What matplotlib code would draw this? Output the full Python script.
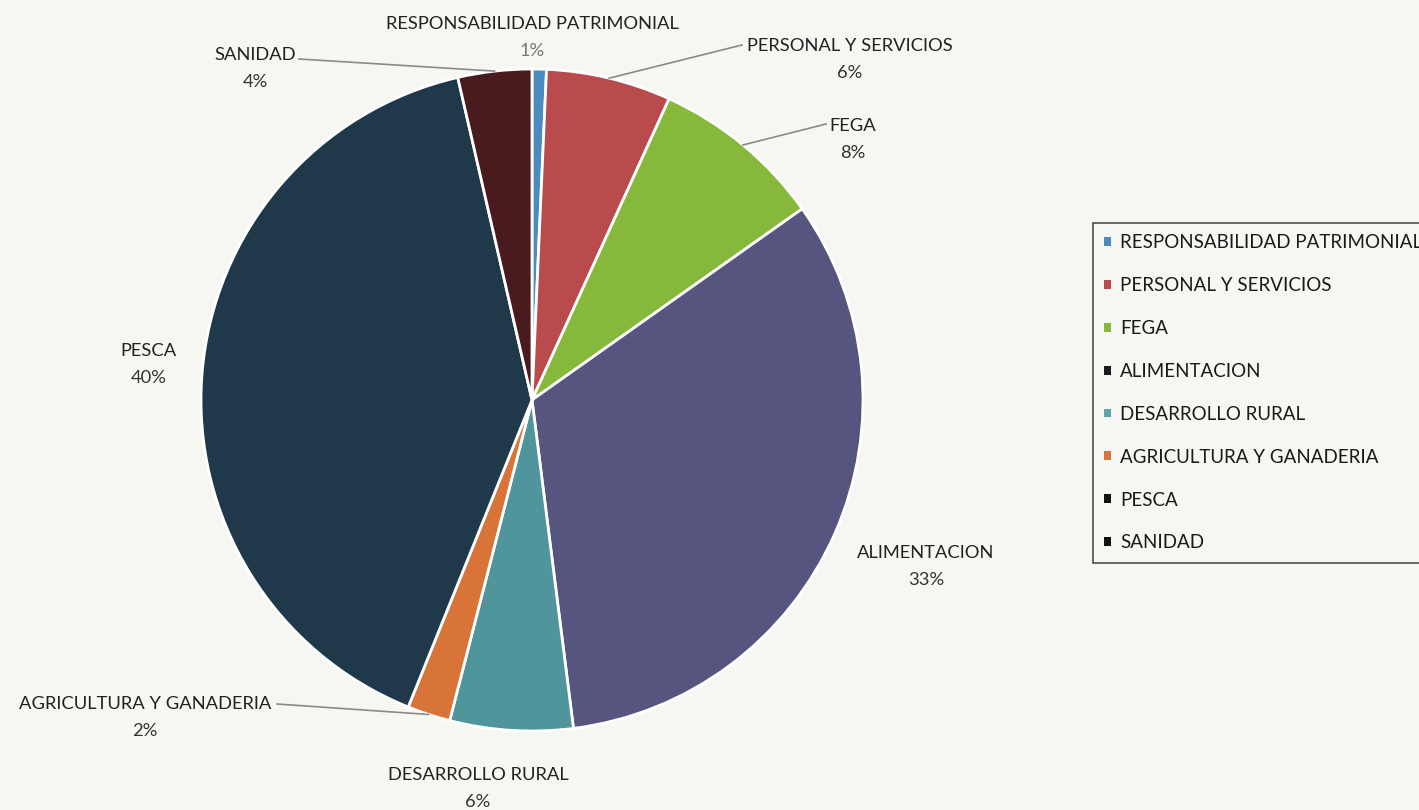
import matplotlib.pyplot as plt
import numpy as np

# ---------------------------------------------------------------
# data (percent of total)

categories = ['RESPONSABILIDAD PATRIMONIAL', 'PERSONAL Y SERVICIOS', 'FEGA',
              'ALIMENTACION', 'DESARROLLO RURAL', 'AGRICULTURA Y GANADERIA',
              'PESCA', 'SANIDAD']
values = [0.7, 6.1, 8.4, 32.8, 6.0, 2.1, 40.3, 3.6]
pct_labels = ['1%', '6%', '8%', '33%', '6%', '2%', '40%', '4%']

slice_colors = ['#4b8bbd', '#b94b4d', '#86b83c', '#55557f',
                '#4f959b', '#d97439', '#1f394b', '#4a1b1e']
legend_colors = ['#4b8bbd', '#b94b4d', '#86b83c', '#1a1a22',
                 '#5fa4ab', '#d97439', '#111111', '#111111']

# ---------------------------------------------------------------

W, H = 1419, 810
fig = plt.figure(figsize=(W / 100, H / 100), dpi=100, facecolor='#f6f6f3')
ax = fig.add_axes([0, 0, 1, 1])

cx, cy, r = 532, 410, 331
wedges, _ = ax.pie(values, colors=slice_colors, startangle=90, counterclock=False,
                   center=(cx, cy), radius=r, frame=True,
                   wedgeprops=dict(edgecolor='white', linewidth=2))
ax.set_xlim(0, W)
ax.set_ylim(0, H)
ax.set_aspect('equal')
ax.axis('off')

font = 'Lato'
fs = 13.2
# label text positions (x, y of the name line)
label_pos = [(532, 786), (850, 764), (853, 684), (926, 257),
             (478, 35), (145, 106), (149, 459), (255, 755)]
# far end of leader lines, for the labels that have one
leader_end = {1: (742, 765), 2: (826, 686), 5: (277, 106), 7: (299, 751)}

for i, (name, pct) in enumerate(zip(categories, pct_labels)):
    x, y = label_pos[i]
    ax.text(x, y, name, ha='center', va='center', fontsize=fs,
            family=font, color='#222222')
    ax.text(x, y - 27, pct, ha='center', va='center', fontsize=fs,
            family=font, color='#333333' if i != 0 else '#777777')
    if i in leader_end:
        w = wedges[i]
        ang = np.deg2rad((w.theta1 + w.theta2) / 2)
        px, py = cx + r * np.cos(ang), cy + r * np.sin(ang)
        ex, ey = leader_end[i]
        ax.plot([px, ex], [py, ey], color='#8a8a8a', lw=1.2)

handles = [plt.Rectangle((0, 0), 1, 1, facecolor=c, edgecolor='none') for c in legend_colors]
leg = fig.legend(handles, categories, loc='upper left',
                 bbox_to_anchor=(1093 / W, 1 - 223 / H), frameon=True,
                 prop=dict(family=font, size=13.5), labelcolor='#1a1a1a',
                 handlelength=0.35, handleheight=0.35, handletextpad=0.5,
                 labelspacing=1.38, borderpad=0.6, fancybox=False,
                 borderaxespad=0)
leg.get_frame().set_edgecolor('#222222')
leg.get_frame().set_linewidth(1.2)
leg.get_frame().set_facecolor('#f6f6f3')

fig.savefig('out.png', dpi=100, facecolor=fig.get_facecolor())
